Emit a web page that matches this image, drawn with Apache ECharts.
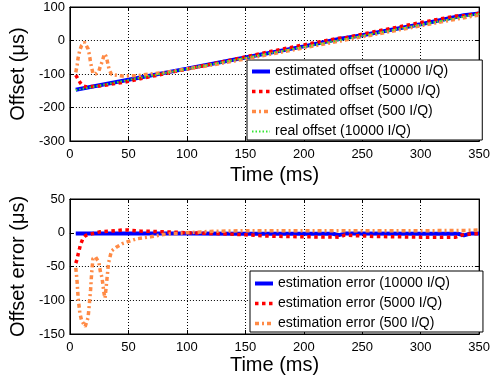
<!DOCTYPE html>
<html>
<head>
<meta charset="utf-8">
<script src="https://cdn.jsdelivr.net/npm/echarts@6/dist/echarts.min.js"></script>
<style>html,body{margin:0;padding:0;background:#fff;}#c{width:493px;height:382px;}</style>
</head>
<body>
<div id="c"></div>
<script>
// ---- data ----
const xTicks = [0, 50, 100, 150, 200, 250, 300, 350];
const topYTicks = [-300, -200, -100, 0, 100];
const botYTicks = [-150, -100, -50, 0, 50];

const topLegend = ['estimated offset (10000 I/Q)', 'estimated offset (5000 I/Q)', 'estimated offset (500 I/Q)', 'real offset (10000 I/Q)'];
const botLegend = ['estimation error (10000 I/Q)', 'estimation error (5000 I/Q)', 'estimation error (500 I/Q)'];

// top: offsets (µs) vs time (ms)
const tReal = [5, 50, 100, 150, 200, 250, 300, 350];
const realOffset = [-148, -118, -85, -52, -19, 14, 47, 80];
const tEst10000 = [5, 50, 100, 150, 200, 230, 250, 300, 337, 350];
const est10000 = [-147, -117, -84, -50.5, -17.5, 4.5, 15.5, 48.5, 75.5, 81];
const tEst5000 = [5, 6, 7, 8, 9, 11, 13.5, 20, 26, 35, 45, 50, 60, 80, 100, 130, 150, 170, 200, 230, 235, 260, 300, 330, 337, 345, 350];
const est5000 = [-103, -107, -115, -121, -127, -135, -138, -137, -135.5, -130.5, -125.5, -122, -114, -100, -85, -64, -49, -34, -13, 7, 7.5, 26, 53.5, 73, 74, 78, 81.5];
const tEst500 = [5, 5.6, 6.2, 7, 8.5, 10, 12.5, 15.5, 16.3, 17, 17.7, 18.5, 19.7, 22, 24.8, 26, 27.5, 29.5, 31, 32, 33.5, 35.5, 40, 45, 57, 69, 80, 100, 120, 150, 200, 250, 300, 340, 350];
const est500 = [-95, -85, -73, -52, -28, -15, -5, -25, -37, -50, -66, -80, -98, -100, -91, -77, -64, -40, -48, -62, -86, -101, -104, -106, -105, -100, -96, -85, -74, -55, -22, 11, 44, 70, 76];

// bottom: estimation errors (µs) vs time (ms)
const tErr10000 = [5, 50, 100, 150, 200, 225, 230, 236, 300, 332, 337, 343, 350];
const err10000 = [-1, -1, -1, -1.5, -1.5, -1.5, -3.5, -1, -1.5, -1.5, -4, -1, -1];
const tErr5000 = [5, 6, 7, 8, 9, 11, 13.5, 20, 26, 35, 45, 50, 60, 80, 100, 130, 150, 170, 200, 230, 235, 260, 300, 330, 337, 345, 350];
const err5000 = [-45, -40, -32, -25, -18, -9, -4, -1, 1.5, 2.5, 4, 4, 2.5, 1.5, 0, -1.5, -3, -5, -6, -6.5, -3.5, -5.5, -6.5, -6.5, -2.5, -1.5, -1.5];
const tErr500 = [5, 5.6, 6.2, 7, 8.5, 10, 13, 15.5, 16.3, 17, 17.7, 18.5, 19.7, 22, 24.8, 26, 27.5, 29, 30, 31.5, 33, 35.5, 40, 45, 57, 69, 80, 100, 120, 150, 200, 250, 300, 340, 350];
const err500 = [-52, -62, -74, -96, -119, -130, -139, -126, -112, -98, -84, -62, -38, -36, -44, -57, -67, -88, -97, -72, -45, -27, -21, -16, -9, -6, -2.5, 0, 2, 3, 3, 3, 3, 3.5, 4];

// ---- styling ----
const FONT = 'Liberation Sans, Arial, Helvetica, sans-serif';
const BLUE = '#0000ff', RED = '#ff0000', ORANGE = '#ff8a45', GREEN = '#33e633';

function pairs(xs, ys) { return xs.map((x, i) => [x, ys[i]]); }

function mainX(gridIndex, nameGap) {
  return {
    type: 'value', gridIndex, min: xTicks[0], max: xTicks[xTicks.length - 1], interval: 50,
    name: 'Time (ms)', nameLocation: 'middle', nameGap,
    nameTextStyle: { fontFamily: FONT, fontSize: 20, color: '#000' },
    axisLine: { show: true, onZero: false, lineStyle: { color: '#000', width: 1 } },
    axisTick: { show: true, inside: true, length: 4, lineStyle: { color: '#000' } },
    axisLabel: { fontFamily: FONT, fontSize: 13, color: '#000', margin: 7 },
    splitLine: { show: true, lineStyle: { color: '#000', type: [1, 2], width: 1 } }
  };
}
function mainY(gridIndex, ticks, interval, name) {
  return {
    type: 'value', gridIndex, min: ticks[0], max: ticks[ticks.length - 1], interval,
    name, nameLocation: 'middle', nameGap: 37,
    nameTextStyle: { fontFamily: FONT, fontSize: 20, color: '#000' },
    axisLine: { show: true, onZero: false, lineStyle: { color: '#000', width: 1 } },
    axisTick: { show: true, inside: true, length: 4, lineStyle: { color: '#000' } },
    axisLabel: { fontFamily: FONT, fontSize: 13, color: '#000', margin: 5 },
    splitLine: { show: true, lineStyle: { color: '#000', type: [1, 2], width: 1 } }
  };
}
function sideX(gridIndex) {
  return {
    type: 'value', gridIndex, position: 'top', min: xTicks[0], max: xTicks[xTicks.length - 1], interval: 50,
    axisLine: { show: true, onZero: false, lineStyle: { color: '#000' } },
    axisTick: { show: true, inside: true, length: 4, lineStyle: { color: '#000' } },
    axisLabel: { show: false }, splitLine: { show: false }
  };
}
function sideY(gridIndex, ticks, interval) {
  return {
    type: 'value', gridIndex, position: 'right', min: ticks[0], max: ticks[ticks.length - 1], interval,
    axisLine: { show: true, onZero: false, lineStyle: { color: '#000' } },
    axisTick: { show: true, inside: true, length: 4, lineStyle: { color: '#000' } },
    axisLabel: { show: false }, splitLine: { show: false }
  };
}
function line(name, xi, yi, data, color, width, type, z) {
  return {
    name, type: 'line', xAxisIndex: xi, yAxisIndex: yi, data,
    symbol: 'none', showSymbol: false, animation: false, clip: true, z,
    lineStyle: { color, width, type, cap: 'butt' }, itemStyle: { color }
  };
}
function legend(data, left, top, padding) {
  return {
    data, left, top, orient: 'vertical',
    padding, itemGap: 5, itemWidth: 18, itemHeight: 14,
    backgroundColor: '#fff', borderColor: '#000', borderWidth: 1, borderRadius: 0,
    itemStyle: { opacity: 0, color: 'rgba(0,0,0,0)', borderWidth: 0 },
    lineStyle: { opacity: 1, width: 'inherit', type: 'inherit' },
    textStyle: { fontFamily: FONT, fontSize: 14, color: '#000', lineHeight: 15 }
  };
}

const chart = echarts.init(document.getElementById('c'), null, { renderer: 'canvas' });
chart.setOption({
  animation: false,
  backgroundColor: '#fff',
  grid: [
    { left: 67, right: 12, top: 7, height: 134, show: true, borderColor: '#000', borderWidth: 1, backgroundColor: '#fff' },
    { left: 67, right: 12, top: 199, height: 135, show: true, borderColor: '#000', borderWidth: 1, backgroundColor: '#fff' }
  ],
  xAxis: [mainX(0, 24), mainX(1, 21), sideX(0), sideX(1)],
  yAxis: [
    mainY(0, topYTicks, 100, 'Offset (μs)'),
    mainY(1, botYTicks, 50, 'Offset error (μs)'),
    sideY(0, topYTicks, 100), sideY(1, botYTicks, 50)
  ],
  legend: [
    legend(topLegend, 247, 60, [4, 34, 1, 3]),
    legend(botLegend, 250, 271, [5, 33, 1, 3])
  ],
  series: [
    line(topLegend[0], 0, 0, pairs(tEst10000, est10000), BLUE, 4, 'solid', 2),
    line(topLegend[1], 0, 0, pairs(tEst5000, est5000), RED, 3.5, [3.5, 3.5], 3),
    line(topLegend[2], 0, 0, pairs(tEst500, est500), ORANGE, 3.5, [4, 3, 2, 3], 4),
    line(topLegend[3], 0, 0, pairs(tReal, realOffset), GREEN, 2, [1.5, 2], 5),
    line(botLegend[0], 1, 1, pairs(tErr10000, err10000), BLUE, 4, 'solid', 2),
    line(botLegend[1], 1, 1, pairs(tErr5000, err5000), RED, 3.5, [3.5, 3.5], 3),
    line(botLegend[2], 1, 1, pairs(tErr500, err500), ORANGE, 3.5, [4, 3, 2, 3], 4)
  ]
});
</script>
</body>
</html>
